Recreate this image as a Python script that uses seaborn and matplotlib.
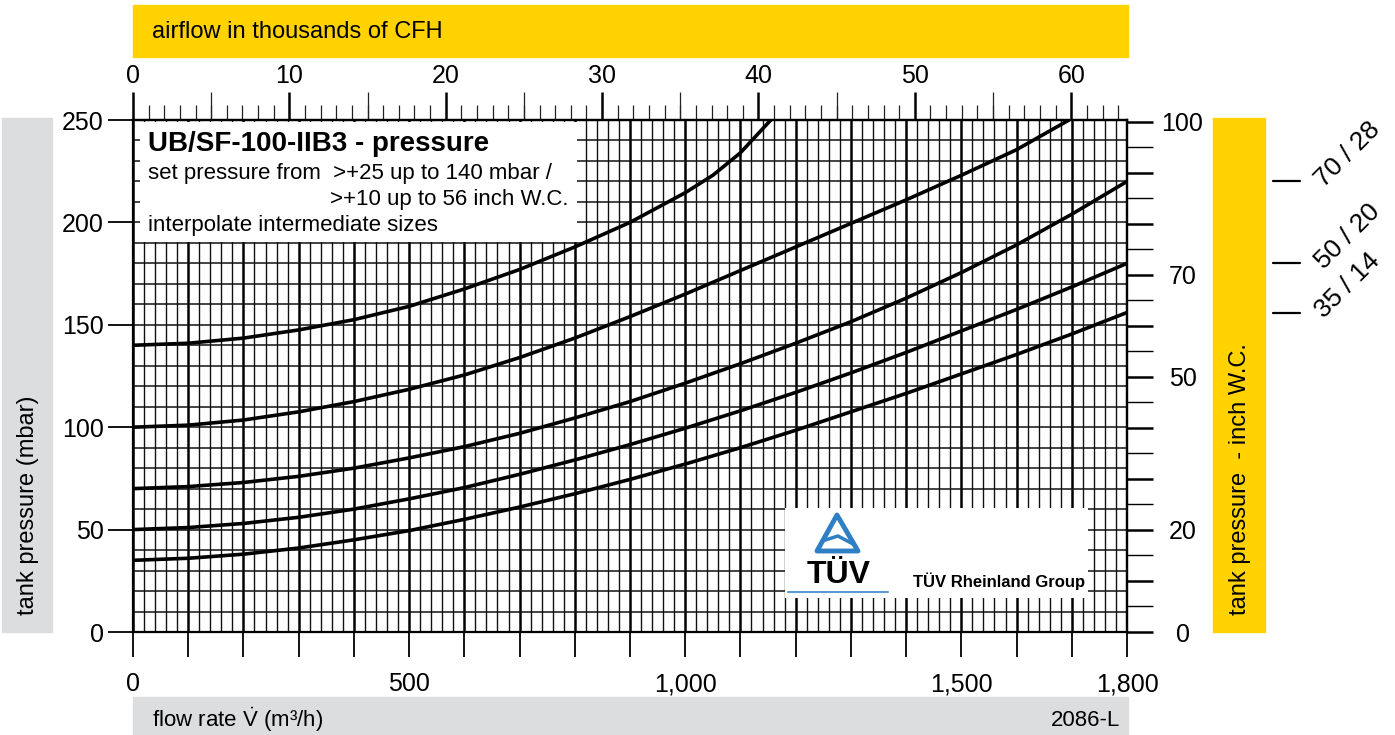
import pandas as pd
import matplotlib.pyplot as plt
import seaborn as sns
from matplotlib.patches import Rectangle, Polygon
from matplotlib.ticker import MultipleLocator, FixedLocator
from matplotlib.transforms import blended_transform_factory

# flow rate (m3/h) and tank pressure (mbar), one curve per set pressure
flow_140 = [0, 100, 200, 300, 400, 500, 600, 700, 800, 900, 1000, 1050, 1100, 1155]
pres_140 = [140, 141, 143.5, 147.5, 152.5, 159, 167.5, 177, 188, 200, 214.5, 223, 234, 250]

flow_100 = [0, 100, 200, 300, 400, 500, 600, 700, 800, 900, 1000, 1100, 1200, 1300, 1400, 1500, 1600, 1695]
pres_100 = [100, 101, 103.5, 107.5, 112.5, 118.5, 125.5, 134, 143.5, 154, 165, 176.5, 188, 199.5, 211, 223, 235.5, 250]

flow_70 = [0, 100, 200, 300, 400, 500, 600, 700, 800, 900, 1000, 1100, 1200, 1300, 1400, 1500, 1600, 1700, 1800]
pres_70 = [70, 71, 73, 76, 80, 85, 90.5, 97, 104.5, 112.5, 121.5, 131, 141, 151.5, 163, 175.5, 189, 204, 220]

flow_50 = [0, 100, 200, 300, 400, 500, 600, 700, 800, 900, 1000, 1100, 1200, 1300, 1400, 1500, 1600, 1700, 1800]
pres_50 = [50, 51, 53, 56, 60, 65, 70.5, 77, 84, 91.5, 99.5, 108, 117, 126.5, 136.5, 147, 157.5, 168.5, 180]

flow_35 = [0, 100, 200, 300, 400, 500, 600, 700, 800, 900, 1000, 1100, 1200, 1300, 1400, 1500, 1600, 1700, 1800]
pres_35 = [35, 36, 38, 41, 45, 49.5, 55, 61, 67.5, 74.5, 82, 90, 98.5, 107.5, 116.5, 126, 135.5, 145.5, 156]

curve_names = ["140", "100", "70", "50", "35"]
end_labels = ["70 / 28", "50 / 20", "35 / 14"]

x_tick_labels = {0: "0", 500: "500", 1000: "1,000", 1500: "1,500", 1800: "1,800"}
inch_labels = {0: "0", 20: "20", 50: "50", 70: "70", 100: "100"}

MBAR_PER_INCH = 2.4909
CFH_PER_M3H = 35.3147

curves = pd.concat([
    pd.DataFrame({"flow": f, "pressure": p, "curve": n})
    for f, p, n in zip([flow_140, flow_100, flow_70, flow_50, flow_35],
                       [pres_140, pres_100, pres_70, pres_50, pres_35], curve_names)
])

sns.set_theme(style="ticks")
plt.rcParams["font.family"] = ["Liberation Sans", "DejaVu Sans"]
plt.rcParams["text.color"] = "black"
plt.rcParams["mathtext.fontset"] = "custom"
plt.rcParams["mathtext.rm"] = "Liberation Sans"

W, H = 1395, 735
YELLOW = "#FFD200"
GRAY = "#DCDDDF"


def px(x, y):
    return x / W, 1 - y / H


fig = plt.figure(figsize=(W / 100, H / 100), dpi=100)
ax = fig.add_axes([133 / W, 103 / H, 994 / W, 512 / H])

# coloured bands
for x0, y0, x1, y1, c in [(133, 5, 1128, 57, YELLOW), (2, 118, 52, 632, GRAY),
                          (1213, 118, 1265, 632, YELLOW), (133, 697, 1128, 735, GRAY)]:
    fig.add_artist(Rectangle(px(x0, y1), (x1 - x0) / W, (y1 - y0) / H,
                             transform=fig.transFigure, color=c, zorder=0))

sns.lineplot(data=curves, x="flow", y="pressure", units="curve", estimator=None,
             sort=False, color="black", lw=2.6, ax=ax, zorder=3)

ax.set_xlim(0, 1800)
ax.set_ylim(0, 250)
ax.set_xlabel("")
ax.set_ylabel("")

ax.xaxis.set_major_locator(MultipleLocator(100))
ax.xaxis.set_minor_locator(MultipleLocator(20))
ax.set_xticks(range(0, 1801, 100), [x_tick_labels.get(v, "") for v in range(0, 1801, 100)])
ax.yaxis.set_major_locator(MultipleLocator(50))
ax.yaxis.set_minor_locator(MultipleLocator(10))

ax.grid(which="major", axis="x", color="black", lw=1.8)
ax.grid(which="minor", axis="x", color="#111111", lw=1.0)
ax.grid(which="both", axis="y", color="#111111", lw=1.1)
ax.set_axisbelow(True)

ax.tick_params(which="minor", length=0)
ax.tick_params(axis="x", which="major", bottom=True, top=False, length=18, width=1.3,
               labelsize=18, pad=11, color="black", labelcolor="black")
ax.tick_params(axis="y", which="major", left=True, right=False, length=18, width=1.3,
               labelsize=18, pad=3, color="black", labelcolor="black")
for s in ax.spines.values():
    s.set_visible(True)
    s.set_color("black")
    s.set_linewidth(1.6)

# top axis: airflow in thousands of CFH
to_kcfh = (lambda q: q * CFH_PER_M3H / 1000, lambda c: c * 1000 / CFH_PER_M3H)
secx = ax.secondary_xaxis("top", functions=to_kcfh)
secx.set_xticks(range(0, 61, 10))
secx.xaxis.set_minor_locator(MultipleLocator(1))
secx.tick_params(which="major", length=20, width=1.8, labelsize=18, pad=3,
                 color="black", labelcolor="black")
secx.tick_params(which="minor", length=11, width=0.9, color="#222222")
secx.spines["top"].set_linewidth(1.6)
secx.spines["top"].set_color("black")
secx5 = ax.secondary_xaxis("top", functions=to_kcfh)
secx5.set_xticks(range(5, 61, 10), [""] * 6)
secx5.tick_params(length=20, width=0.9, color="#222222")
secx5.spines["top"].set_visible(False)

# right axis: inch W.C.
to_inch = (lambda p: p / MBAR_PER_INCH, lambda w: w * MBAR_PER_INCH)
secy = ax.secondary_yaxis("right", functions=to_inch)
secy.set_yticks(range(0, 101, 10), [inch_labels.get(v, "") for v in range(0, 101, 10)])
secy.yaxis.set_minor_locator(FixedLocator(range(5, 100, 10)))
secy.tick_params(which="major", length=19, width=1.8, labelsize=18, pad=21,
                 color="black", labelcolor="black")
secy.tick_params(which="minor", length=19, width=1.0, color="black")
secy.spines["right"].set_linewidth(1.6)
secy.spines["right"].set_color("black")
plt.setp(secy.get_yticklabels(), ha="center")

# band texts
fig.text(*px(152, 32), "airflow in thousands of CFH", fontsize=17, va="center", ha="left")
fig.text(*px(28, 615), "tank pressure (mbar)", fontsize=17, rotation=90, va="bottom", ha="center")
fig.text(*px(1240, 615), "tank pressure  - inch W.C.", fontsize=17, rotation=90, va="bottom", ha="center")
fig.text(*px(152, 720), r"flow rate $\dot{\mathrm{V}}$ (m³/h)", fontsize=16, va="center", ha="left")
fig.text(*px(1120, 720), "2086-L", fontsize=16, va="center", ha="right")

# info box
ax.add_patch(Rectangle(((140 - 133) / 994, (632 - 242) / 512), (577 - 140) / 994, (242 - 122) / 512,
                       transform=ax.transAxes, facecolor="white", edgecolor="none", zorder=2))
fig.text(*px(148, 144), "UB/SF-100-IIB3 - pressure", fontsize=20, fontweight="bold", va="center")
fig.text(*px(148, 173), "set pressure from  >+25 up to 140 mbar /", fontsize=16, va="center")
fig.text(*px(568, 199), ">+10 up to 56 inch W.C.", fontsize=16, va="center", ha="right")
fig.text(*px(148, 225), "interpolate intermediate sizes", fontsize=16, va="center")

# TUV box
ax.add_patch(Rectangle(((785 - 133) / 994, (632 - 598) / 512), (1088 - 785) / 994, (598 - 508) / 512,
                       transform=ax.transAxes, facecolor="white", edgecolor="none", zorder=2))
blue = "#2f7fc4"
fig.add_artist(Polygon([px(837, 515), px(817, 551), px(858, 551)], closed=True, fill=False,
                       edgecolor=blue, lw=3.5, joinstyle="round", transform=fig.transFigure, zorder=5))
fig.add_artist(plt.Line2D([px(822, 541)[0], px(838, 536)[0], px(853, 544)[0]],
                          [px(822, 541)[1], px(838, 536)[1], px(853, 544)[1]],
                          color=blue, lw=2.5, transform=fig.transFigure, zorder=5))
fig.text(*px(839, 575), "T\u00dcV", fontsize=23, fontweight="bold", ha="center", va="center", zorder=6)
fig.add_artist(plt.Line2D([788 / W, 888 / W], [1 - 592 / H, 1 - 592 / H], color="#5a9bd5", lw=1.5,
                          transform=fig.transFigure, zorder=5))
fig.text(*px(913, 581), "T\u00dcV Rheinland Group", fontsize=12, fontweight="bold", va="center", zorder=6)

# curve identifiers at the right edge
tr = blended_transform_factory(fig.transFigure, ax.transData)
for lab, p_end in zip(end_labels, [pres_70[-1], pres_50[-1], pres_35[-1]]):
    ax.plot([1273 / W, 1300 / W], [p_end, p_end], color="black", lw=1.6, transform=tr, clip_on=False)
    ax.text(1324 / W, p_end - 3, lab, fontsize=19, rotation=45, rotation_mode="anchor",
            ha="left", va="baseline", transform=tr, clip_on=False)

fig.savefig("out.png", dpi=100)
